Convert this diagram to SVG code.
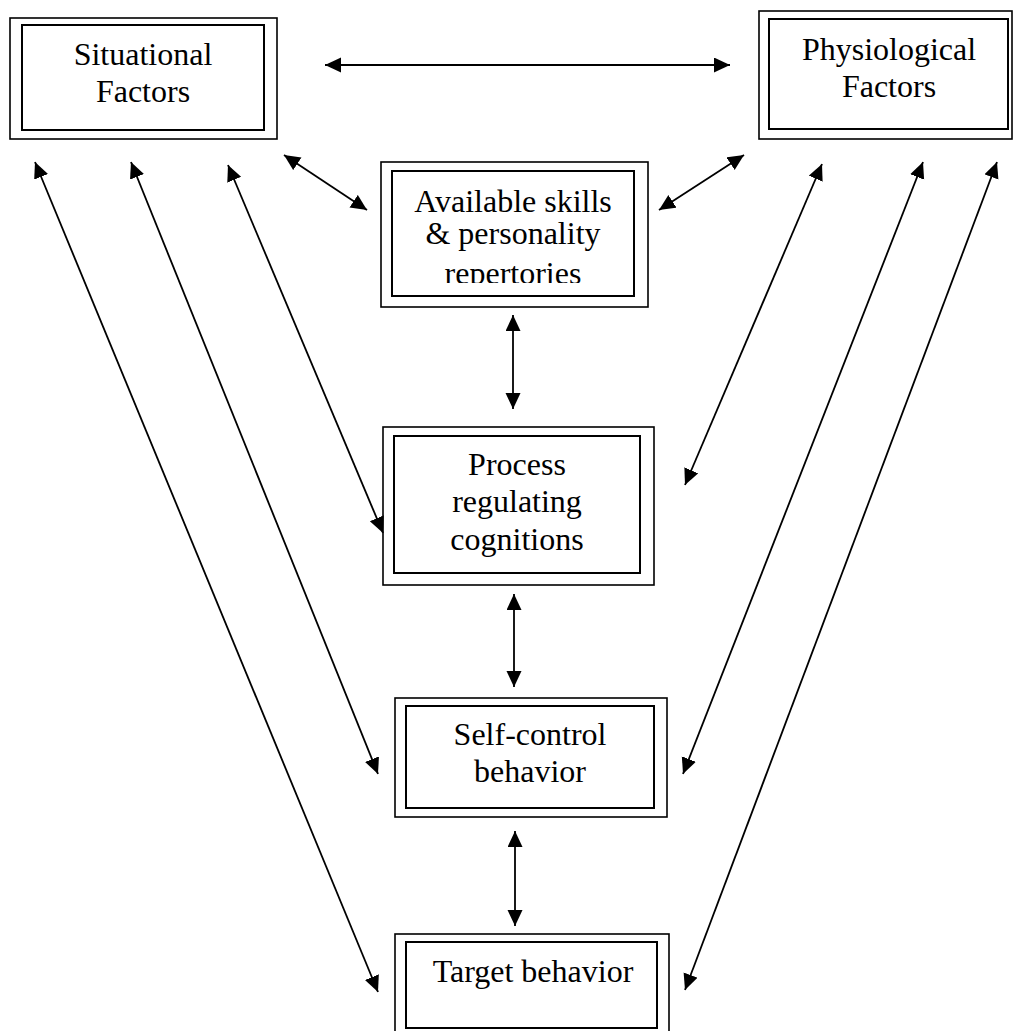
<svg xmlns="http://www.w3.org/2000/svg" width="1013" height="1031" viewBox="0 0 1013 1031">
  <style>
    .outer { fill: none; stroke: #000; stroke-width: 1.6; }
    .inner { fill: none; stroke: #000; stroke-width: 2; }
    .lbl { font-family: "Liberation Serif", "Times New Roman", serif; font-size: 32px; fill: #000; text-anchor: middle; }
    .arr { stroke: #000; stroke-width: 1.8; fill: none; marker-start: url(#ah); marker-end: url(#ah); }
  </style>
  <defs>
    <marker id="ah" markerUnits="userSpaceOnUse" markerWidth="18" markerHeight="16" refX="16" refY="7.5" orient="auto-start-reverse" viewBox="0 0 18 16">
      <path d="M0,0 L16,7.5 L0,15 z" fill="#000"/>
    </marker>
    <clipPath id="clipAvail">
      <rect x="392" y="171" width="242" height="112"/>
    </clipPath>
  </defs>
  <rect width="1013" height="1031" fill="#fff"/>

  <g id="connectors">
    <line class="arr" x1="325" y1="65" x2="730" y2="65"/>
    <line class="arr" x1="284" y1="155" x2="367" y2="210"/>
    <line class="arr" x1="744" y1="155" x2="659" y2="210"/>
    <line class="arr" x1="513" y1="315" x2="513" y2="409"/>
    <line class="arr" x1="514" y1="594" x2="514" y2="687"/>
    <line class="arr" x1="515" y1="831" x2="515" y2="926"/>
    <line class="arr" x1="35" y1="162" x2="378" y2="992"/>
    <line class="arr" x1="131" y1="162" x2="378" y2="774"/>
    <line class="arr" x1="228" y1="165" x2="383" y2="533"/>
    <line class="arr" x1="822" y1="164" x2="685" y2="485"/>
    <line class="arr" x1="923" y1="162" x2="683" y2="774"/>
    <line class="arr" x1="997" y1="162" x2="685" y2="990"/>
  </g>

  <g id="situational">
    <rect class="outer" x="10" y="18" width="267" height="121"/>
    <rect class="inner" x="22" y="25" width="242" height="105"/>
    <text class="lbl" x="143" y="65">Situational</text>
    <text class="lbl" x="143" y="102">Factors</text>
  </g>

  <g id="physiological">
    <rect class="outer" x="759" y="11" width="253" height="128"/>
    <rect class="inner" x="769" y="19" width="239" height="110"/>
    <text class="lbl" x="889" y="60">Physiological</text>
    <text class="lbl" x="889" y="97">Factors</text>
  </g>

  <g id="available">
    <rect class="outer" x="381" y="162" width="267" height="145"/>
    <rect class="inner" x="392" y="171" width="242" height="125"/>
    <text class="lbl" x="513" y="212">Available skills</text>
    <text class="lbl" x="513" y="244">&amp; personality</text>
    <text class="lbl" x="513" y="284" clip-path="url(#clipAvail)">repertories</text>
  </g>

  <g id="process">
    <rect class="outer" x="383" y="427" width="271" height="158"/>
    <rect class="inner" x="394" y="436" width="246" height="137"/>
    <text class="lbl" x="517" y="475">Process</text>
    <text class="lbl" x="517" y="512">regulating</text>
    <text class="lbl" x="517" y="550">cognitions</text>
  </g>

  <g id="selfcontrol">
    <rect class="outer" x="395" y="698" width="272" height="119"/>
    <rect class="inner" x="406" y="706" width="248" height="102"/>
    <text class="lbl" x="530" y="745">Self-control</text>
    <text class="lbl" x="530" y="782">behavior</text>
  </g>

  <g id="target">
    <rect class="outer" x="395" y="934" width="274" height="110"/>
    <rect class="inner" x="406" y="942" width="251" height="86"/>
    <text class="lbl" x="533" y="982">Target behavior</text>
  </g>
</svg>
